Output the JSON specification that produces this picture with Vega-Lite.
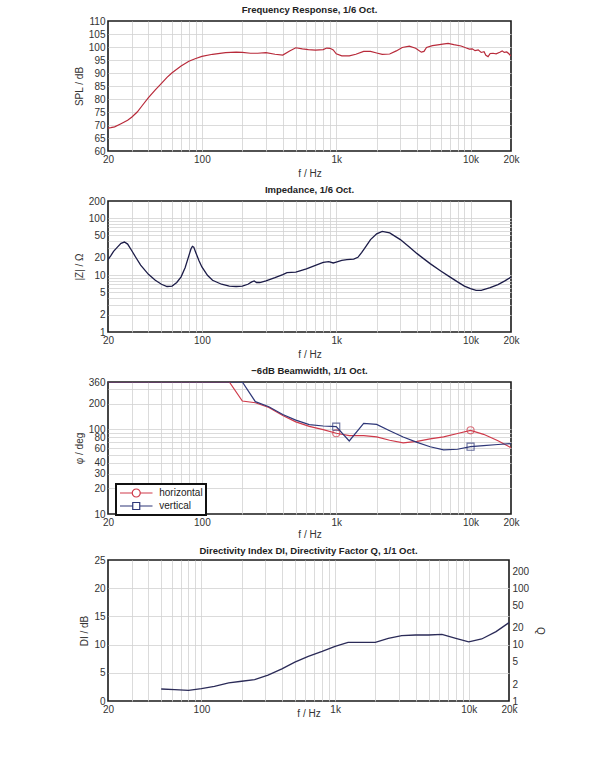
{
  "$schema": "https://vega.github.io/schema/vega-lite/v6.json",
  "background": "white",
  "padding": {"left": 73, "top": 3, "right": 5, "bottom": 5},
  "spacing": 4,
  "resolve": {"legend": {"color": "independent"}},
  "config": {
    "font": "Liberation Sans",
    "view": {"stroke": "#1a1a1a", "strokeWidth": 1.6},
    "axis": {
      "labelFont": "Liberation Sans",
      "labelFontSize": 10,
      "labelColor": "#333",
      "labelPadding": 3,
      "titleFont": "Liberation Sans",
      "titleFontSize": 10,
      "titleFontWeight": "normal",
      "titleColor": "#333",
      "titlePadding": 4,
      "gridColor": "#d2d2d2",
      "gridWidth": 0.8,
      "domain": false,
      "ticks": false,
      "labelOverlap": false,
      "labelFlush": false
    },
    "title": {"font": "Liberation Sans", "fontSize": 9.5, "fontWeight": "bold", "color": "#222", "offset": 2}
  },
  "datasets": {
    "spl": [
      {"f": 20, "spl": 68.8}, {"f": 21, "spl": 69.0}, {"f": 22.4, "spl": 69.3}, {"f": 25, "spl": 70.5},
      {"f": 28, "spl": 71.8}, {"f": 30, "spl": 73.0}, {"f": 33, "spl": 75.0}, {"f": 36, "spl": 77.5},
      {"f": 40, "spl": 80.5}, {"f": 45, "spl": 83.5}, {"f": 50, "spl": 86.0}, {"f": 55, "spl": 88.3},
      {"f": 60, "spl": 90.1}, {"f": 70, "spl": 92.7}, {"f": 80, "spl": 94.5}, {"f": 90, "spl": 95.6},
      {"f": 100, "spl": 96.4}, {"f": 120, "spl": 97.2}, {"f": 150, "spl": 97.8}, {"f": 180, "spl": 98.0},
      {"f": 200, "spl": 97.9}, {"f": 230, "spl": 97.6}, {"f": 260, "spl": 97.6}, {"f": 300, "spl": 97.8},
      {"f": 350, "spl": 97.2}, {"f": 400, "spl": 96.9}, {"f": 450, "spl": 98.5}, {"f": 500, "spl": 99.7},
      {"f": 560, "spl": 99.3}, {"f": 620, "spl": 99.0}, {"f": 700, "spl": 98.8}, {"f": 800, "spl": 99.0},
      {"f": 850, "spl": 99.6}, {"f": 900, "spl": 99.5}, {"f": 950, "spl": 98.9}, {"f": 1000, "spl": 97.4},
      {"f": 1100, "spl": 96.6}, {"f": 1250, "spl": 96.6}, {"f": 1400, "spl": 97.2}, {"f": 1600, "spl": 98.3},
      {"f": 1800, "spl": 98.3}, {"f": 2000, "spl": 97.7}, {"f": 2200, "spl": 97.2}, {"f": 2500, "spl": 97.3},
      {"f": 2800, "spl": 98.5}, {"f": 3100, "spl": 99.8}, {"f": 3500, "spl": 100.3}, {"f": 3900, "spl": 99.5},
      {"f": 4300, "spl": 98.0}, {"f": 4500, "spl": 98.3}, {"f": 4700, "spl": 99.8}, {"f": 5200, "spl": 100.5},
      {"f": 5700, "spl": 100.8}, {"f": 6200, "spl": 101.1}, {"f": 6800, "spl": 101.4}, {"f": 7500, "spl": 100.9},
      {"f": 8500, "spl": 100.4}, {"f": 9200, "spl": 99.7}, {"f": 9800, "spl": 99.2}, {"f": 10300, "spl": 99.3},
      {"f": 10800, "spl": 98.6}, {"f": 11400, "spl": 98.9}, {"f": 12000, "spl": 97.9}, {"f": 12600, "spl": 98.2},
      {"f": 13000, "spl": 96.8}, {"f": 13500, "spl": 96.3}, {"f": 14000, "spl": 97.5}, {"f": 14700, "spl": 97.6},
      {"f": 15500, "spl": 97.4}, {"f": 16500, "spl": 98.0}, {"f": 17200, "spl": 98.5}, {"f": 17800, "spl": 97.9},
      {"f": 18600, "spl": 98.1}, {"f": 19300, "spl": 97.4}, {"f": 20000, "spl": 96.5}
    ],
    "impedance": [
      {"f": 20, "z": 18.7}, {"f": 21, "z": 22}, {"f": 22, "z": 26}, {"f": 23.5, "z": 31}, {"f": 25, "z": 36},
      {"f": 26.5, "z": 38}, {"f": 28, "z": 35}, {"f": 30, "z": 27}, {"f": 32, "z": 21}, {"f": 35, "z": 15},
      {"f": 40, "z": 10.3}, {"f": 45, "z": 8.1}, {"f": 50, "z": 6.9}, {"f": 55, "z": 6.3}, {"f": 60, "z": 6.4},
      {"f": 65, "z": 7.4}, {"f": 70, "z": 9.3}, {"f": 75, "z": 13.5}, {"f": 80, "z": 22}, {"f": 83, "z": 29},
      {"f": 85, "z": 32}, {"f": 87, "z": 31}, {"f": 90, "z": 25}, {"f": 95, "z": 18}, {"f": 100, "z": 13.9},
      {"f": 110, "z": 9.9}, {"f": 120, "z": 8.1}, {"f": 140, "z": 6.9}, {"f": 160, "z": 6.4}, {"f": 180, "z": 6.3},
      {"f": 200, "z": 6.4}, {"f": 220, "z": 6.9}, {"f": 235, "z": 7.6}, {"f": 245, "z": 7.9}, {"f": 255, "z": 7.4},
      {"f": 270, "z": 7.4}, {"f": 300, "z": 7.9}, {"f": 350, "z": 9.0}, {"f": 400, "z": 10.2}, {"f": 430, "z": 11.0},
      {"f": 500, "z": 11.3}, {"f": 600, "z": 12.8}, {"f": 700, "z": 14.8}, {"f": 800, "z": 16.7}, {"f": 880, "z": 17.2},
      {"f": 950, "z": 16.3}, {"f": 1000, "z": 16.9}, {"f": 1100, "z": 18.1}, {"f": 1200, "z": 18.7}, {"f": 1350, "z": 19.0},
      {"f": 1450, "z": 20.5}, {"f": 1550, "z": 25}, {"f": 1650, "z": 31}, {"f": 1800, "z": 42}, {"f": 2000, "z": 53},
      {"f": 2200, "z": 58.5}, {"f": 2500, "z": 55}, {"f": 3000, "z": 42}, {"f": 3500, "z": 31}, {"f": 4000, "z": 23.8},
      {"f": 5000, "z": 15.9}, {"f": 6000, "z": 11.8}, {"f": 7000, "z": 9.3}, {"f": 8000, "z": 7.6}, {"f": 9000, "z": 6.4},
      {"f": 10000, "z": 5.8}, {"f": 11000, "z": 5.4}, {"f": 12000, "z": 5.4}, {"f": 14000, "z": 6.0}, {"f": 16000, "z": 6.8},
      {"f": 18000, "z": 7.9}, {"f": 20000, "z": 9.2}
    ],
    "beam": [
      {"f": 20, "phi": 360, "dir": "horizontal"}, {"f": 160, "phi": 360, "dir": "horizontal"},
      {"f": 200, "phi": 215, "dir": "horizontal"}, {"f": 250, "phi": 205, "dir": "horizontal"},
      {"f": 315, "phi": 180, "dir": "horizontal"}, {"f": 400, "phi": 145, "dir": "horizontal"},
      {"f": 500, "phi": 122, "dir": "horizontal"}, {"f": 630, "phi": 108, "dir": "horizontal"},
      {"f": 800, "phi": 99, "dir": "horizontal"}, {"f": 1000, "phi": 89.5, "dir": "horizontal"},
      {"f": 1250, "phi": 84, "dir": "horizontal"}, {"f": 1600, "phi": 84, "dir": "horizontal"},
      {"f": 2000, "phi": 81, "dir": "horizontal"}, {"f": 2500, "phi": 74, "dir": "horizontal"},
      {"f": 3150, "phi": 69, "dir": "horizontal"}, {"f": 4000, "phi": 72, "dir": "horizontal"},
      {"f": 5000, "phi": 77, "dir": "horizontal"}, {"f": 6300, "phi": 81, "dir": "horizontal"},
      {"f": 8000, "phi": 89, "dir": "horizontal"}, {"f": 10000, "phi": 97, "dir": "horizontal"},
      {"f": 12500, "phi": 87, "dir": "horizontal"}, {"f": 16000, "phi": 73, "dir": "horizontal"},
      {"f": 20000, "phi": 60.5, "dir": "horizontal"},
      {"f": 20, "phi": 360, "dir": "vertical"}, {"f": 200, "phi": 360, "dir": "vertical"},
      {"f": 250, "phi": 211, "dir": "vertical"}, {"f": 315, "phi": 184, "dir": "vertical"},
      {"f": 400, "phi": 149, "dir": "vertical"}, {"f": 500, "phi": 128, "dir": "vertical"},
      {"f": 630, "phi": 113, "dir": "vertical"}, {"f": 800, "phi": 109, "dir": "vertical"},
      {"f": 1000, "phi": 107, "dir": "vertical"}, {"f": 1250, "phi": 72.6, "dir": "vertical"},
      {"f": 1600, "phi": 117, "dir": "vertical"}, {"f": 2000, "phi": 114, "dir": "vertical"},
      {"f": 2500, "phi": 96, "dir": "vertical"}, {"f": 3150, "phi": 81, "dir": "vertical"},
      {"f": 4000, "phi": 70, "dir": "vertical"}, {"f": 5000, "phi": 62, "dir": "vertical"},
      {"f": 6300, "phi": 57, "dir": "vertical"}, {"f": 8000, "phi": 58, "dir": "vertical"},
      {"f": 10000, "phi": 62.2, "dir": "vertical"}, {"f": 12500, "phi": 64, "dir": "vertical"},
      {"f": 16000, "phi": 66, "dir": "vertical"}, {"f": 20000, "phi": 67.5, "dir": "vertical"}
    ],
    "di": [
      {"f": 50, "di": 2.13, "q": 1.63}, {"f": 63, "di": 2.0, "q": 1.58}, {"f": 80, "di": 1.9, "q": 1.55},
      {"f": 100, "di": 2.2, "q": 1.66}, {"f": 125, "di": 2.6, "q": 1.82}, {"f": 160, "di": 3.2, "q": 2.09},
      {"f": 200, "di": 3.5, "q": 2.24}, {"f": 250, "di": 3.8, "q": 2.40}, {"f": 315, "di": 4.6, "q": 2.88},
      {"f": 400, "di": 5.7, "q": 3.72}, {"f": 500, "di": 6.9, "q": 4.90}, {"f": 630, "di": 7.9, "q": 6.17},
      {"f": 800, "di": 8.8, "q": 7.59}, {"f": 1000, "di": 9.7, "q": 9.33}, {"f": 1250, "di": 10.4, "q": 10.96},
      {"f": 1600, "di": 10.4, "q": 10.96}, {"f": 2000, "di": 10.4, "q": 10.96}, {"f": 2500, "di": 11.1, "q": 12.88},
      {"f": 3150, "di": 11.6, "q": 14.45}, {"f": 4000, "di": 11.7, "q": 14.79}, {"f": 5000, "di": 11.7, "q": 14.79},
      {"f": 6300, "di": 11.8, "q": 15.14}, {"f": 8000, "di": 11.1, "q": 12.88}, {"f": 10000, "di": 10.5, "q": 11.22},
      {"f": 12500, "di": 11.0, "q": 12.59}, {"f": 16000, "di": 12.3, "q": 16.98}, {"f": 20000, "di": 13.9, "q": 24.55}
    ]
  },
  "vconcat": [
    {
      "title": "Frequency Response, 1/6 Oct.",
      "width": 403,
      "height": 130,
      "data": {"name": "spl"},
      "mark": {"type": "line", "color": "#b82a3a", "strokeWidth": 1.2, "clip": true},
      "encoding": {
        "x": {
          "field": "f", "type": "quantitative",
          "scale": {"type": "log", "domain": [20, 20000], "nice": false},
          "axis": {
            "title": "f / Hz",
            "values": [20, 30, 40, 50, 60, 70, 80, 90, 100, 200, 300, 400, 500, 600, 700, 800, 900, 1000, 2000, 3000, 4000, 5000, 6000, 7000, 8000, 9000, 10000, 20000],
            "labelExpr": "datum.value == 20 ? '20' : datum.value == 100 ? '100' : datum.value == 1000 ? '1k' : datum.value == 10000 ? '10k' : datum.value == 20000 ? '20k' : ''",
            "gridOpacity": {"condition": {"test": "datum.value == 20 || datum.value == 20000", "value": 0}, "value": 1}
          }
        },
        "y": {
          "field": "spl", "type": "quantitative",
          "scale": {"domain": [60, 110], "nice": false, "zero": false},
          "axis": {
            "title": "SPL / dB",
            "values": [60, 65, 70, 75, 80, 85, 90, 95, 100, 105, 110],
            "gridOpacity": {"condition": {"test": "datum.value == 60 || datum.value == 110", "value": 0}, "value": 1}
          }
        }
      }
    },
    {
      "title": "Impedance, 1/6 Oct.",
      "width": 403,
      "height": 131,
      "data": {"name": "impedance"},
      "mark": {"type": "line", "color": "#1c1c48", "strokeWidth": 1.3, "clip": true},
      "encoding": {
        "x": {
          "field": "f", "type": "quantitative",
          "scale": {"type": "log", "domain": [20, 20000], "nice": false},
          "axis": {
            "title": "f / Hz",
            "values": [20, 30, 40, 50, 60, 70, 80, 90, 100, 200, 300, 400, 500, 600, 700, 800, 900, 1000, 2000, 3000, 4000, 5000, 6000, 7000, 8000, 9000, 10000, 20000],
            "labelExpr": "datum.value == 20 ? '20' : datum.value == 100 ? '100' : datum.value == 1000 ? '1k' : datum.value == 10000 ? '10k' : datum.value == 20000 ? '20k' : ''",
            "gridOpacity": {"condition": {"test": "datum.value == 20 || datum.value == 20000", "value": 0}, "value": 1}
          }
        },
        "y": {
          "field": "z", "type": "quantitative",
          "scale": {"type": "log", "domain": [1, 200], "nice": false},
          "axis": {
            "title": "|Z| / Ω",
            "values": [1, 2, 3, 4, 5, 6, 7, 8, 9, 10, 20, 30, 40, 50, 60, 70, 80, 90, 100, 200],
            "labelExpr": "indexof([1, 2, 5, 10, 20, 50, 100, 200], datum.value) >= 0 ? '' + datum.value : ''",
            "gridOpacity": {"condition": {"test": "datum.value == 1 || datum.value == 200", "value": 0}, "value": 1}
          }
        }
      }
    },
    {
      "title": "−6dB Beamwidth, 1/1 Oct.",
      "width": 403,
      "height": 132,
      "data": {"name": "beam"},
      "layer": [
        {
          "mark": {"type": "line", "strokeWidth": 1.2, "clip": true},
          "encoding": {
            "x": {
              "field": "f", "type": "quantitative",
              "scale": {"type": "log", "domain": [20, 20000], "nice": false},
              "axis": {
                "title": "f / Hz",
                "titlePadding": 2,
                "values": [20, 30, 40, 50, 60, 70, 80, 90, 100, 200, 300, 400, 500, 600, 700, 800, 900, 1000, 2000, 3000, 4000, 5000, 6000, 7000, 8000, 9000, 10000, 20000],
                "labelExpr": "datum.value == 20 ? '20' : datum.value == 100 ? '100' : datum.value == 1000 ? '1k' : datum.value == 10000 ? '10k' : datum.value == 20000 ? '20k' : ''",
                "gridOpacity": {"condition": {"test": "datum.value == 20 || datum.value == 20000", "value": 0}, "value": 1}
              }
            },
            "y": {
              "field": "phi", "type": "quantitative",
              "scale": {"type": "log", "domain": [10, 360], "nice": false},
              "axis": {
                "title": "φ / deg",
                "values": [10, 20, 30, 40, 50, 60, 70, 80, 90, 100, 200, 300, 360],
                "labelExpr": "indexof([10, 20, 30, 40, 60, 80, 100, 200, 360], datum.value) >= 0 ? '' + datum.value : ''",
                "gridOpacity": {"condition": {"test": "datum.value == 10 || datum.value == 360", "value": 0}, "value": 1}
              }
            },
            "color": {
              "field": "dir", "type": "nominal",
              "scale": {"domain": ["horizontal", "vertical"], "range": ["#cf3a4a", "#2e3778"]},
              "legend": {
                "title": null,
                "orient": "none",
                "legendX": 8,
                "legendY": 102,
                "padding": 3,
                "rowPadding": -2,
                "fillColor": "white",
                "strokeColor": "#111",
                "labelFont": "Liberation Sans",
                "labelFontSize": 10,
                "labelColor": "#222",
                "symbolSize": 100,
                "symbolOffset": 11.25,
                "labelOffset": 17,
                "symbolStrokeWidth": 1.2,
                "encode": {
                  "legend": {"update": {"strokeWidth": {"value": 2}}},
                  "symbols": {
                    "update": {
                      "shape": {"signal": "datum.value === 'horizontal' ? 'M-3.25,0L-0.8,0M0.8,0L3.25,0M-0.8,0A0.8,0.8,0,1,1,0.8,0A0.8,0.8,0,1,1,-0.8,0Z' : 'M-3.25,0L-0.7,0M0.7,0L3.25,0M-0.7,-0.7L0.7,-0.7L0.7,0.7L-0.7,0.7Z'"},
                      "fill": {"value": "transparent"}
                    }
                  }
                }
              }
            }
          }
        },
        {
          "transform": [{"filter": "datum.dir == 'horizontal' && (datum.f == 1000 || datum.f == 10000)"}],
          "mark": {"type": "point", "shape": "circle", "filled": false, "size": 50, "strokeWidth": 1.1},
          "encoding": {
            "x": {"field": "f", "type": "quantitative"},
            "y": {"field": "phi", "type": "quantitative"},
            "color": {"field": "dir", "type": "nominal"}
          }
        },
        {
          "transform": [{"filter": "datum.dir == 'vertical' && (datum.f == 1000 || datum.f == 10000)"}],
          "mark": {"type": "point", "shape": "square", "filled": false, "size": 50, "strokeWidth": 1.1},
          "encoding": {
            "x": {"field": "f", "type": "quantitative"},
            "y": {"field": "phi", "type": "quantitative"},
            "color": {"field": "dir", "type": "nominal"}
          }
        }
      ]
    },
    {
      "title": {"text": "Directivity Index DI, Directivity Factor Q, 1/1 Oct.", "offset": 0},
      "width": 401,
      "height": 141,
      "data": {"name": "di"},
      "layer": [
        {
          "mark": {"type": "line", "color": "#2b2b58", "strokeWidth": 1.3, "clip": true},
          "encoding": {
            "x": {
              "field": "f", "type": "quantitative",
              "scale": {"type": "log", "domain": [20, 20000], "nice": false},
              "axis": {
                "title": "f / Hz",
                "titlePadding": -6,
                "values": [20, 30, 40, 50, 60, 70, 80, 90, 100, 200, 300, 400, 500, 600, 700, 800, 900, 1000, 2000, 3000, 4000, 5000, 6000, 7000, 8000, 9000, 10000, 20000],
                "labelExpr": "datum.value == 20 ? '20' : datum.value == 100 ? '100' : datum.value == 1000 ? '1k' : datum.value == 10000 ? '10k' : datum.value == 20000 ? '20k' : ''",
                "gridOpacity": {"condition": {"test": "datum.value == 20 || datum.value == 20000", "value": 0}, "value": 1}
              }
            },
            "y": {
              "field": "di", "type": "quantitative",
              "scale": {"domain": [0, 25], "nice": false},
              "axis": {
                "title": "DI / dB",
                "values": [0, 5, 10, 15, 20, 25],
                "gridOpacity": {"condition": {"test": "datum.value == 0 || datum.value == 25", "value": 0}, "value": 1}
              }
            }
          }
        },
        {
          "mark": {"type": "line", "opacity": 0, "clip": true},
          "encoding": {
            "x": {"field": "f", "type": "quantitative"},
            "y": {
              "field": "q", "type": "quantitative",
              "scale": {"type": "log", "domain": [1, 316.23], "nice": false},
              "axis": {
                "orient": "right",
                "title": "Q",
                "grid": false,
                "values": [1, 2, 5, 10, 20, 50, 100, 200],
                "labelExpr": "'' + datum.value",
                "titlePadding": 6
              }
            }
          }
        }
      ],
      "resolve": {"scale": {"y": "independent"}, "axis": {"y": "independent"}}
    }
  ]
}
